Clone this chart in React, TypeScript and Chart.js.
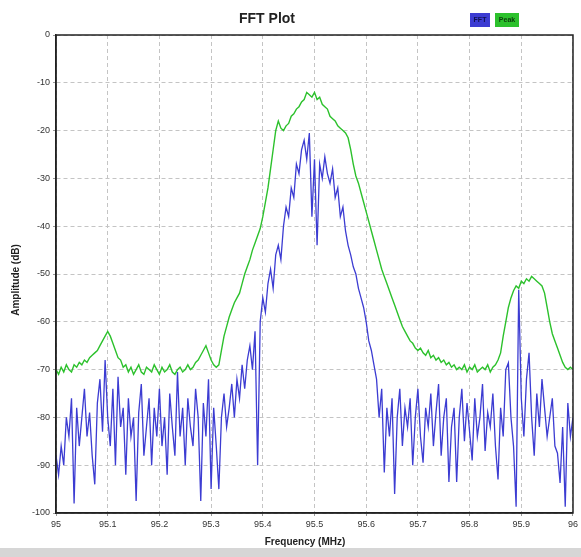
import React, { useEffect, useRef } from "react";
import { Chart, registerables } from "chart.js";

Chart.register(...registerables);

const chartTitle = "FFT Plot";
const xAxisTitle = "Frequency (MHz)";
const yAxisTitle = "Amplitude (dB)";
const seriesNames = ["FFT", "Peak"];

const freqStart = 95;
const freqStep = 0.005;

const xTickValues = [95, 95.1, 95.2, 95.3, 95.4, 95.5, 95.6, 95.7, 95.8, 95.9, 96];
const yTickValues = [0, -10, -20, -30, -40, -50, -60, -70, -80, -90, -100];

// FFT (blue) amplitude per bin, dB
const fftValues = [
  -88, -92, -86, -90, -80, -84, -76, -98, -78, -86,
  -80, -74, -84, -79, -88, -94, -77, -72, -83, -68,
  -80, -86, -74, -90, -71.5, -82, -78, -92, -76, -84,
  -80, -97.5, -79, -73, -88, -82, -76, -90, -78, -84,
  -74, -86, -80, -92, -75, -82, -88, -70.5, -84, -78,
  -90, -76, -82, -86, -74, -80, -97.5, -77, -84, -72,
  -95, -78, -86, -95, -80, -75, -82, -78, -73, -80,
  -72, -76, -69, -74, -68, -65, -70, -62, -90, -60,
  -55, -58, -52, -49, -53, -46, -44, -47, -40, -36,
  -38, -32, -34, -27, -29, -24, -22, -26, -20.5, -38,
  -26, -44, -27, -30, -25.5, -29, -31, -28, -34, -32,
  -38, -36, -41, -44, -46, -48.5, -50, -53, -55, -57,
  -60, -64, -66, -69, -72, -80, -74, -91.5, -78, -84,
  -76, -96, -80, -74, -86, -78, -82, -76, -90, -80,
  -74, -84, -89.5, -78, -82, -75, -86, -79, -73, -88,
  -80, -76, -93.5, -82, -78, -93.5, -80, -74, -85, -77,
  -83, -89, -76, -84, -80, -73, -87, -79, -82, -75,
  -86, -93, -78, -84, -70, -68.6, -80, -86, -98.7, -53.3,
  -76, -84, -72, -66.5, -80, -88, -75, -82, -72, -78,
  -84, -80, -76, -86, -87.5, -93.7, -82, -98.7, -77, -84,
  -80,
];

// Peak hold (green) amplitude per bin, dB
const peakValues = [
  -70, -71, -69.5, -70.5, -69, -70, -70.5, -69, -69.5, -68.5,
  -69, -68, -68.5, -67.5, -67, -66.5, -66, -65, -64, -63,
  -62, -63, -64.5, -66, -67.5, -68, -69.5, -69, -70.5, -69.5,
  -71, -70, -69, -70.5, -71, -69.5, -70, -70.5, -69, -70,
  -71, -69.5, -70.5, -70, -69, -70.5, -71, -70, -69.5, -70.5,
  -70, -69, -70, -69.5, -68.5, -68, -67, -66, -65, -66.5,
  -68, -69, -69.5, -69, -66, -63, -61, -59, -57.5, -56,
  -55, -54, -52, -50, -48.5, -47, -45, -43.5, -42, -40.5,
  -38, -35, -32, -28, -24, -20, -18, -19.5, -20, -19,
  -18.5, -17, -16.5, -15.5, -15, -14, -13.5, -12, -12.5, -13,
  -12, -13.5, -13, -14.5, -15, -15.5, -17, -17.5, -18, -19,
  -19.5, -20, -20.5, -21.5, -24, -27, -29.5, -31, -33, -35,
  -37, -39, -41, -43, -45, -47, -49, -50.5, -52, -53.5,
  -55, -56.5, -58, -59.5, -61, -62, -63, -64, -64.5, -65.5,
  -66, -65.5, -66.5, -67, -66, -67.5, -67, -68, -67.5, -68.5,
  -68, -69, -68.5, -69.5, -69, -70, -69.5, -70, -69, -70.5,
  -69.5, -70, -69, -70.5, -70, -69.5, -70, -69, -70.5, -69.5,
  -69, -68, -66.5, -63, -60, -57, -55, -53.5, -52.5, -53,
  -51.5, -52, -51, -51.5, -50.5, -51, -51.5, -52, -52.5, -54,
  -57, -60, -62.5, -64, -65.5, -67, -68.5, -69.5, -70, -69.5,
  -70,
];

const fftColor = "#3c3cd2";
const peakColor = "#2cc12c";

function toPoints(values: number[]) {
  return values.map((v, i) => ({ x: freqStart + i * freqStep, y: v }));
}

const FONT = "'Liberation Sans', Arial, sans-serif";

const decorPlugin = {
  id: "decor",
  beforeDraw(chart: any) {
    const { ctx, width, height } = chart;
    ctx.save();
    ctx.fillStyle = "#ffffff";
    ctx.fillRect(0, 0, width, height);
    ctx.fillStyle = "#d6d6d6";
    ctx.fillRect(0, height - 9, width, 9);
    ctx.restore();
  },
  afterDraw(chart: any) {
    const { ctx, chartArea } = chart;
    const { left, right, top, bottom } = chartArea;
    ctx.save();
    ctx.setLineDash([]);
    ctx.strokeStyle = "#222222";
    ctx.lineWidth = 1.5;
    ctx.strokeRect(left, top, right - left, bottom - top);
    ctx.fillStyle = "#222222";
    ctx.font = `bold 14px ${FONT}`;
    ctx.textAlign = "center";
    ctx.textBaseline = "middle";
    ctx.fillText(chartTitle, 267, 19);
    const boxes = [
      { x: 470, w: 20, color: fftColor, text: seriesNames[0], tc: "#101050" },
      { x: 495, w: 24, color: peakColor, text: seriesNames[1], tc: "#0b3a0b" },
    ];
    ctx.font = `bold 7px ${FONT}`;
    boxes.forEach((b) => {
      ctx.fillStyle = b.color;
      ctx.fillRect(b.x, 13, b.w, 14);
      ctx.fillStyle = b.tc;
      ctx.fillText(b.text, b.x + b.w / 2, 20);
    });
    ctx.fillStyle = "#222222";
    ctx.font = `bold 10px ${FONT}`;
    ctx.fillText(xAxisTitle, 305, 542);
    ctx.translate(16, (top + bottom) / 2 + 6);
    ctx.rotate(-Math.PI / 2);
    ctx.fillText(yAxisTitle, 0, 0);
    ctx.restore();
  },
};

export default function App() {
  const ref = useRef<HTMLCanvasElement | null>(null);

  useEffect(() => {
    document.body.style.margin = "0";
    if (!ref.current) return;
    const gridOpts = {
      color: "#c4c4c4",
      lineWidth: 1,
      drawTicks: true,
      tickLength: 3,
      tickColor: "#999999",
    };
    const chart = new Chart(ref.current, {
      type: "line",
      data: {
        datasets: [
          {
            label: seriesNames[1],
            data: toPoints(peakValues),
            borderColor: peakColor,
            borderWidth: 1.4,
            pointRadius: 0,
            tension: 0,
            fill: false,
          },
          {
            label: seriesNames[0],
            data: toPoints(fftValues),
            borderColor: fftColor,
            borderWidth: 1.3,
            pointRadius: 0,
            tension: 0,
            fill: false,
          },
        ],
      },
      options: {
        animation: false,
        responsive: false,
        maintainAspectRatio: false,
        layout: { padding: { top: 35, right: 7, left: 0, bottom: 0 } },
        plugins: {
          legend: { display: false },
          title: { display: false },
          tooltip: { enabled: false },
        },
        scales: {
          x: {
            type: "linear",
            min: 95,
            max: 96,
            afterBuildTicks: (scale: any) => {
              scale.ticks = xTickValues.map((v) => ({ value: v }));
            },
            afterFit: (scale: any) => {
              scale.height = 44;
            },
            grid: gridOpts,
            border: { display: true, color: "#222222", width: 1.5, dash: [4, 3] },
            ticks: {
              autoSkip: false,
              maxRotation: 0,
              padding: 3,
              color: "#333333",
              font: { family: FONT, size: 9 },
              callback: (v: any) => Number(Number(v).toFixed(1)).toString(),
            },
          },
          y: {
            type: "linear",
            min: -100,
            max: 0,
            afterBuildTicks: (scale: any) => {
              scale.ticks = yTickValues.map((v) => ({ value: v }));
            },
            afterFit: (scale: any) => {
              scale.width = 56;
            },
            grid: gridOpts,
            border: { display: true, color: "#222222", width: 1.5, dash: [4, 3] },
            ticks: {
              autoSkip: false,
              padding: 3,
              color: "#333333",
              font: { family: FONT, size: 9 },
              callback: (v: any) => String(v),
            },
          },
        },
      },
      plugins: [decorPlugin],
    } as any);

    return () => chart.destroy();
  }, []);

  return (
    <div style={{ width: 581, height: 557 }}>
      <canvas ref={ref} width={581} height={557} style={{ display: "block", width: 581, height: 557 }} />
    </div>
  );
}
